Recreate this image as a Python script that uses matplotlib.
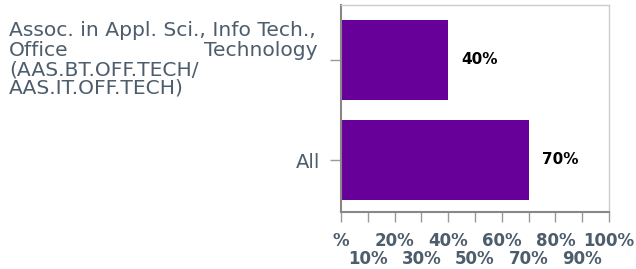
import matplotlib.pyplot as plt
from matplotlib.transforms import blended_transform_factory

# data
categories = ["All", "Assoc. in Appl. Sci., Info Tech., Office Technology (AAS.BT.OFF.TECH/ AAS.IT.OFF.TECH)"]
values = [70, 40]
major_ticks = [0, 20, 40, 60, 80, 100]
major_labels = ["%", "20%", "40%", "60%", "80%", "100%"]
minor_ticks = [10, 30, 50, 70, 90]
minor_labels = ["10%", "30%", "50%", "70%", "90%"]

BAR = "#660099"
LABEL = "#4d5d6c"

fig = plt.figure(figsize=(6.36, 2.69), dpi=100)
ax = fig.add_axes([341 / 636, 1 - 212 / 269, 268 / 636, 207 / 269])

ypos = list(range(len(categories)))
ax.barh(ypos, values, height=0.8, color=BAR)
for y, v in zip(ypos, values):
    ax.text(v + 5, y, f"{v}%", va="center", ha="left", fontsize=11,
            fontweight="bold", color="black")

ax.set_xlim(0, 100)
ax.set_ylim(-0.52, 1.55)

# x labels in two staggered rows
ax.set_xticks(major_ticks)
ax.set_xticklabels(major_labels, fontsize=12, fontweight="bold", color=LABEL)
ax.set_xticks(minor_ticks, minor=True)
ax.set_xticklabels(minor_labels, minor=True, fontsize=12, fontweight="bold", color=LABEL)
ax.tick_params(axis="x", which="major", length=7.2, width=1, color="#999999", pad=7)
ax.tick_params(axis="x", which="minor", length=7.2, width=1, color="#999999", pad=20)

ax.set_yticks(ypos)
ax.set_yticklabels(["All", ""], fontsize=14, color=LABEL)
ax.tick_params(axis="y", length=8, width=1, color="#999999", pad=7)

# long category label, drawn line by line (second line justified)
trans = blended_transform_factory(fig.transFigure, ax.transData)
x_left, x_right = 9 / 636, 318 / 636
kw = dict(transform=trans, fontsize=14.6, color=LABEL, va="baseline", clip_on=False)
ax.text(x_left, 1.24, "Assoc. in Appl. Sci., Info Tech.,", ha="left", **kw)
ax.text(x_left, 1.04, "Office", ha="left", **kw)
ax.text(x_right, 1.04, "Technology", ha="right", **kw)
ax.text(x_left, 0.85, "(AAS.BT.OFF.TECH/", ha="left", **kw)
ax.text(x_left, 0.66, "AAS.IT.OFF.TECH)", ha="left", **kw)

for side in ["left", "bottom"]:
    ax.spines[side].set_color("#888888")
    ax.spines[side].set_linewidth(1.5)
for side in ["top", "right"]:
    ax.spines[side].set_color("#cccccc")
    ax.spines[side].set_linewidth(1)

fig.savefig("out.png", dpi=100)
